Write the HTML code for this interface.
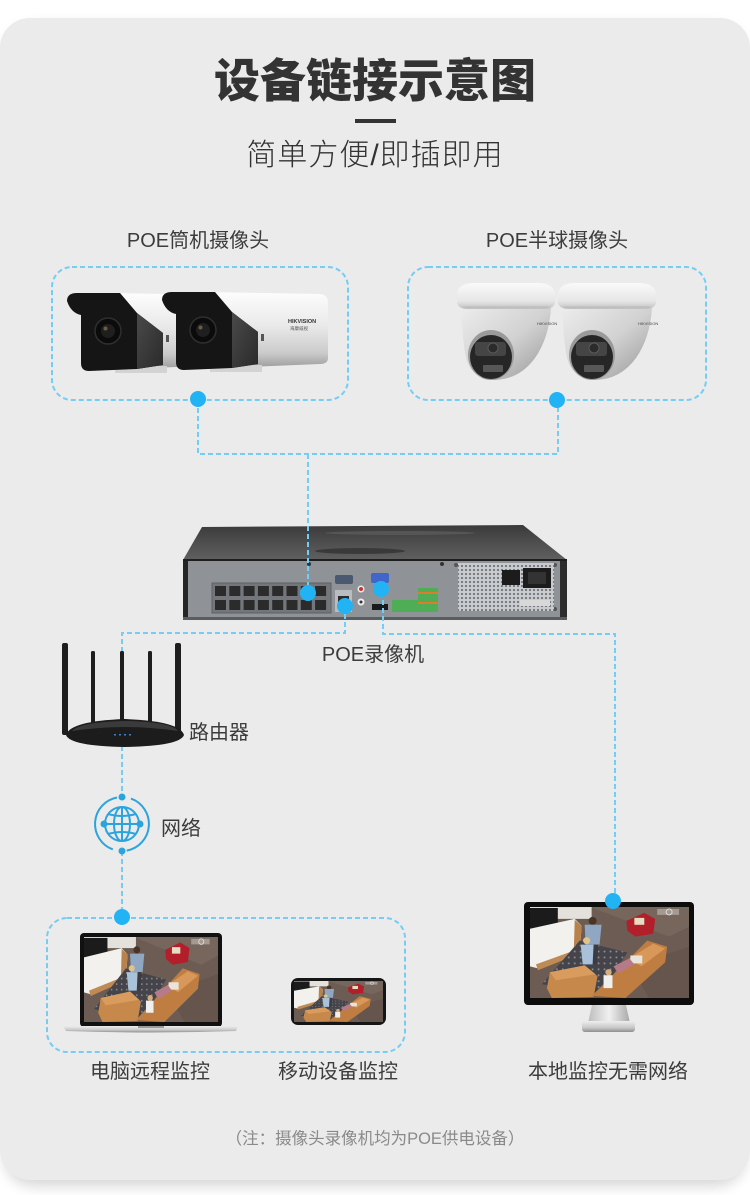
<!DOCTYPE html>
<html><head><meta charset="utf-8"><style>
html,body{margin:0;padding:0;background:#fff;}
body{width:750px;height:1195px;overflow:hidden;}
svg{display:block;}
text{font-family:"Liberation Sans","Noto Sans CJK SC",sans-serif;}
</style></head><body>
<svg width="750" height="1195" viewBox="0 0 750 1195" xmlns="http://www.w3.org/2000/svg">
<defs>
<filter id="sh" x="-10%" y="-10%" width="120%" height="120%"><feGaussianBlur stdDeviation="7"/></filter>
<linearGradient id="bodyG" x1="0" y1="0" x2="0" y2="1"><stop offset="0" stop-color="#fdfdfd"/><stop offset="0.45" stop-color="#e9e9e9"/><stop offset="0.8" stop-color="#cbcbcb"/><stop offset="1" stop-color="#9c9c9c"/></linearGradient>
<linearGradient id="sideG" x1="0" y1="0" x2="1" y2="1"><stop offset="0" stop-color="#4a4a4a"/><stop offset="1" stop-color="#2a2a2a"/></linearGradient>
<linearGradient id="capG" x1="0" y1="0" x2="0" y2="1"><stop offset="0" stop-color="#fafafa"/><stop offset="0.7" stop-color="#e6e6e6"/><stop offset="1" stop-color="#c0c0c0"/></linearGradient>
<linearGradient id="domeG" x1="0" y1="0" x2="1" y2="1"><stop offset="0" stop-color="#ececec"/><stop offset="0.5" stop-color="#d2d2d2"/><stop offset="1" stop-color="#969696"/></linearGradient>
<linearGradient id="nvrTop" x1="0" y1="0" x2="0" y2="1"><stop offset="0" stop-color="#3a3a3a"/><stop offset="0.5" stop-color="#4e4e4e"/><stop offset="1" stop-color="#5f5f5f"/></linearGradient>
<linearGradient id="silver" x1="0" y1="0" x2="0" y2="1"><stop offset="0" stop-color="#eeeeee"/><stop offset="0.6" stop-color="#c9c9c9"/><stop offset="1" stop-color="#8e8e8e"/></linearGradient>
<linearGradient id="neck" x1="0" y1="0" x2="1" y2="0"><stop offset="0" stop-color="#bdbdbd"/><stop offset="0.5" stop-color="#f0f0f0"/><stop offset="1" stop-color="#a8a8a8"/></linearGradient>
<pattern id="mesh" width="4" height="4" patternUnits="userSpaceOnUse"><rect width="4" height="4" fill="#c9ccce"/><circle cx="2" cy="2" r="1.15" fill="#73777b"/></pattern>
<pattern id="rug" width="6" height="6" patternUnits="userSpaceOnUse"><rect width="6" height="6" fill="#45444a"/><circle cx="3" cy="3" r="1" fill="#8d8c92"/></pattern>

<symbol id="scene" viewBox="0 0 160 92" preserveAspectRatio="none">
<rect width="160" height="92" fill="#6c5c53"/>
<polygon points="60,0 160,0 160,20 140,30" fill="#76665c"/>
<polygon points="100,60 160,40 160,92 120,92" fill="#65554c"/>
<rect x="0" y="0" width="62" height="12" fill="#e4e1dc"/>
<rect x="0" y="1" width="28" height="21" fill="#1b1b1b"/>
<polygon points="0,22 45,12 52,19 50,45 8,62 0,60" fill="#f3f1ed"/>
<polygon points="45,13 52,19 50,45 44,47" fill="#b8824c"/>
<polygon points="6,58 50,42 50,47 8,64" fill="#c08a55"/>
<polygon points="12,78 50,34 98,46 70,90" fill="url(#rug)"/>
<polygon points="20,66 55,59 68,70 64,91 22,92 17,82" fill="#c7894b"/>
<polygon points="20,66 55,59 66,68 26,74" fill="#d99c5e"/>
<polygon points="62,90 118,34 138,40 136,56 96,92" fill="#c07d41"/>
<polygon points="100,52 124,37 136,42 112,60" fill="#d8985a"/>
<rect x="101" y="49" width="12" height="8" fill="#e8e4dc"/>
<circle cx="63" cy="14" r="4" fill="#4a3428"/>
<polygon points="55,18 72,18 70,38 56,38" fill="#8fa7c2"/>
<polygon points="57,38 69,38 67,58 59,58" fill="#3d3a40"/>
<circle cx="57" cy="34" r="3.6" fill="#dfc38b"/>
<polygon points="51,38 64,38 63,58 53,58" fill="#a9c2da"/>
<polygon points="84,60 100,52 105,58 89,67" fill="#b67a88"/>
<circle cx="79" cy="66" r="3.2" fill="#d6ad7e"/>
<rect x="74" y="69" width="9" height="13" fill="#efefef"/>
<polygon points="97,14 115,6 126,12 124,27 106,30 98,24" fill="#b21f2b"/>
<rect x="105" y="11" width="10" height="7" fill="#e6dcc1"/>
<rect x="128" y="2" width="22" height="6" fill="#a49a92"/>
<circle cx="140" cy="5" r="3" fill="none" stroke="#ddd" stroke-width="1"/>
</symbol>

<g id="bullet">
<path d="M44,0 L158,2 Q166,3 166,10 L166,66 Q166,72 158,72 L60,76 Z" fill="url(#bodyG)"/>
<rect x="48" y="73" width="52" height="7" fill="#d3d3d3"/>
<path d="M0,8 Q0,0 10,0 L53,0 L70,20 L96,40 L96,72 L70,76 L22,78 Q14,78 14,70 L14,22 Q4,20 0,8 Z" fill="#151515"/>
<path d="M70,20 L96,40 L96,72 L70,76 Z" fill="url(#sideG)"/>
<circle cx="41" cy="38" r="13" fill="#0b0b0b" stroke="#2f2f2f" stroke-width="1.5"/>
<circle cx="41" cy="38" r="7" fill="#1f1f1f"/>
<circle cx="38.5" cy="35.5" r="2" fill="#6d5c42"/>
<rect x="99" y="42" width="3" height="7" fill="#555"/>
</g>

<g id="dome">
<path d="M4,25 L94,25 Q92,55 78,75 Q62,97 36,97 Q12,95 8,70 Q5,50 4,25 Z" fill="url(#domeG)"/>
<path d="M0,10 Q2,0 18,0 L80,0 Q96,0 98,10 L98,20 Q96,26 88,26 L10,26 Q2,26 0,20 Z" fill="url(#capG)"/>
<line x1="6" y1="24" x2="92" y2="24" stroke="#b8b8b8" stroke-width="1"/>
<ellipse cx="34" cy="72" rx="23" ry="25" fill="#9a9a9a"/>
<ellipse cx="34" cy="74" rx="21" ry="22" fill="#262626"/>
<rect x="18" y="59" width="31" height="14" rx="3" fill="#454545"/>
<circle cx="36" cy="65" r="5" fill="#2b2b2b" stroke="#5a5a5a" stroke-width="1"/>
<rect x="26" y="82" width="20" height="7" rx="1" fill="#575757"/>
<text x="80" y="42" font-size="4" fill="#444">HIKVISION</text>
</g>
</defs>

<!-- card -->
<rect x="4" y="26" width="742" height="1160" rx="30" fill="#000" opacity="0.16" filter="url(#sh)"/>
<rect x="0" y="18" width="750" height="1162" rx="30" fill="#ebebeb"/>

<!-- titles -->
<text x="375" y="97" font-size="46" font-weight="900" fill="#333" text-anchor="middle" style="font-family:'Noto Sans CJK SC',sans-serif">设备链接示意图</text>
<rect x="355" y="119" width="41" height="4" fill="#333"/>
<text x="375" y="165" font-size="30" font-weight="300" fill="#333" text-anchor="middle" letter-spacing="1">简单方便/即插即用</text>

<text x="198" y="247" font-size="20" fill="#3c3c3c" text-anchor="middle">POE筒机摄像头</text>
<text x="557" y="247" font-size="20" fill="#3c3c3c" text-anchor="middle">POE半球摄像头</text>

<!-- camera boxes -->
<g fill="none" stroke="#74cdf4" stroke-width="2" stroke-dasharray="5 3">
<rect x="52" y="267" width="296" height="133" rx="20"/>
<rect x="408" y="267" width="298" height="133" rx="20"/>
<rect x="47" y="918" width="358" height="134" rx="20"/>
</g>

<!-- bullet cameras -->
<use href="#bullet" x="67" y="293"/>
<use href="#bullet" x="162" y="292"/>
<text x="288" y="323" font-size="5.5" fill="#333" font-weight="bold">HIKVISION</text>
<text x="290" y="330" font-size="4.5" fill="#555">海康威视</text>

<!-- dome cameras -->
<use href="#dome" x="457" y="283"/>
<use href="#dome" x="558" y="283"/>

<!-- NVR -->
<polygon points="202,527 523,525 567,560 183,560" fill="url(#nvrTop)"/>
<ellipse cx="400" cy="533" rx="75" ry="2" fill="#5e5e5e" opacity="0.7"/>
<ellipse cx="360" cy="551" rx="45" ry="3" fill="#2e2e2e" opacity="0.7"/>
<rect x="183" y="559" width="384" height="2" fill="#1e1e1e"/>
<rect x="183" y="561" width="384" height="59" fill="#8f9397"/>
<rect x="183" y="561" width="5" height="59" fill="#252525"/>
<rect x="560" y="561" width="7" height="59" fill="#2c2c2c"/>
<rect x="183" y="617" width="384" height="3" fill="#5a5d60"/>
<circle cx="309" cy="564" r="2" fill="#333"/>
<circle cx="442" cy="564" r="2" fill="#333"/>
<circle cx="456" cy="565" r="2" fill="#555"/>
<circle cx="555" cy="565" r="2" fill="#555"/>
<circle cx="555" cy="609" r="2" fill="#555"/>
<rect x="212" y="583" width="119" height="30" fill="#73777b" stroke="#5c6064" stroke-width="1"/>
<g fill="#2b2b2b">
<rect x="215" y="586" width="11" height="10"/><rect x="229.3" y="586" width="11" height="10"/><rect x="243.6" y="586" width="11" height="10"/><rect x="257.9" y="586" width="11" height="10"/><rect x="272.2" y="586" width="11" height="10"/><rect x="286.5" y="586" width="11" height="10"/><rect x="300.8" y="586" width="11" height="10"/><rect x="315.1" y="586" width="11" height="10"/>
<rect x="215" y="600" width="11" height="10"/><rect x="229.3" y="600" width="11" height="10"/><rect x="243.6" y="600" width="11" height="10"/><rect x="257.9" y="600" width="11" height="10"/><rect x="272.2" y="600" width="11" height="10"/><rect x="286.5" y="600" width="11" height="10"/><rect x="300.8" y="600" width="11" height="10"/><rect x="315.1" y="600" width="11" height="10"/>
</g>
<rect x="335" y="575" width="18" height="9" rx="2" fill="#4a5870"/>
<rect x="335" y="590" width="17" height="22" fill="#b9bdc1"/>
<rect x="338" y="596" width="11" height="9" fill="#2b2b2b"/>
<circle cx="361" cy="589" r="3.5" fill="#eee"/><circle cx="361" cy="589" r="2" fill="#c33"/>
<circle cx="361" cy="602" r="3.5" fill="#eee"/><circle cx="361" cy="602" r="1.5" fill="#333"/>
<rect x="371" y="573" width="18" height="10" rx="2" fill="#3f66c8"/>
<rect x="372" y="604" width="16" height="6" fill="#1a1a1a"/>
<rect x="392" y="600" width="26" height="12" fill="#4fae55"/>
<rect x="418" y="588" width="20" height="24" fill="#4fae55"/>
<rect x="418" y="592" width="20" height="2" fill="#e07b2a"/>
<rect x="418" y="602" width="20" height="2" fill="#e07b2a"/>
<rect x="458" y="563" width="96" height="48" fill="url(#mesh)"/>
<rect x="502" y="570" width="18" height="15" fill="#1c1c1c"/>
<rect x="523" y="568" width="28" height="20" fill="#1c1c1c"/>
<rect x="528" y="572" width="18" height="12" fill="#333"/>
<rect x="520" y="600" width="30" height="6" fill="#d8d8d8"/>

<text x="373" y="661" font-size="20" fill="#3c3c3c" text-anchor="middle">POE录像机</text>

<!-- connectors -->
<g fill="none" stroke="#74cdf4" stroke-width="2" stroke-dasharray="5 3">
<path d="M198,400 V454 H558 V400"/>
<path d="M308,454 V593"/>
<path d="M345,606 V633 H122 V720"/>
<path d="M383,600 V634 H615 V901"/>
<path d="M122,746 V797"/>
<path d="M122,851 V918"/>
</g>

<!-- router -->
<g fill="#1e1e1e">
<rect x="62" y="643" width="6" height="92" rx="2"/>
<rect x="175" y="643" width="6" height="92" rx="2"/>
<rect x="91" y="651" width="4" height="72" rx="1.5"/>
<rect x="120" y="651" width="4" height="72" rx="1.5"/>
<rect x="148" y="651" width="4" height="72" rx="1.5"/>
</g>
<path d="M66,735 Q70,721 125,719 Q180,721 184,735 Q180,746 125,747 Q70,746 66,735 Z" fill="#1c1c1c"/>
<path d="M72,731 Q80,722 125,721 Q172,722 178,731 Q150,727 125,727 Q100,727 72,731 Z" fill="#3a3a3a"/>
<g fill="#3b7fd0"><rect x="114" y="734" width="2" height="1.5"/><rect x="119" y="734" width="2" height="1.5"/><rect x="124" y="734" width="2" height="1.5"/><rect x="129" y="734" width="2" height="1.5"/></g>
<text x="189" y="739" font-size="20" fill="#3c3c3c">路由器</text>

<!-- globe -->
<g stroke="#2ba4de" fill="none" stroke-width="2">
<circle cx="122" cy="824" r="17"/>
<ellipse cx="122" cy="824" rx="8" ry="17"/>
<line x1="122" y1="807" x2="122" y2="841"/>
<line x1="105" y1="824" x2="139" y2="824"/>
<path d="M108,814 Q122,818 136,814 M108,834 Q122,830 136,834"/>
<path d="M117,797.5 A27 27 0 0 0 112.8,849.4"/>
<path d="M131,798.6 A27 27 0 0 1 126.7,850.6"/>
</g>
<g fill="#2ba4de">
<circle cx="122" cy="797" r="3.5"/><circle cx="122" cy="851" r="3.5"/><circle cx="104" cy="824" r="3.5"/><circle cx="140" cy="824" r="3.5"/>
</g>
<text x="161" y="835" font-size="20" fill="#3c3c3c">网络</text>

<!-- laptop -->
<rect x="80" y="933" width="142" height="94" rx="4" fill="#111"/>
<use href="#scene" x="84" y="937" width="134" height="85"/>
<path d="M63,1026 L238,1026 L236,1031 Q150,1034 66,1031 Z" fill="url(#silver)"/>
<rect x="138" y="1026" width="26" height="2" fill="#9a9a9a"/>

<!-- phone -->
<rect x="291" y="978" width="95" height="47" rx="7" fill="#151515"/>
<use href="#scene" x="294" y="981" width="89" height="41"/>

<!-- monitor -->
<rect x="524" y="902" width="170" height="103" rx="4" fill="#0d0d0d"/>
<use href="#scene" x="530" y="907" width="159" height="91"/>
<polygon points="592,1005 626,1005 630,1023 588,1023" fill="url(#neck)"/>
<rect x="582" y="1021" width="53" height="11" rx="3" fill="url(#silver)"/>

<!-- dots -->
<g fill="#22b3f5">
<circle cx="198" cy="399" r="8"/>
<circle cx="557" cy="400" r="8"/>
<circle cx="308" cy="593" r="8"/>
<circle cx="345" cy="606" r="8"/>
<circle cx="381" cy="589" r="8"/>
<circle cx="122" cy="917" r="8"/>
<circle cx="613" cy="901" r="8"/>
</g>

<!-- bottom labels -->
<text x="150" y="1078" font-size="20" fill="#3c3c3c" text-anchor="middle">电脑远程监控</text>
<text x="338" y="1078" font-size="20" fill="#3c3c3c" text-anchor="middle">移动设备监控</text>
<text x="608" y="1078" font-size="20" fill="#3c3c3c" text-anchor="middle">本地监控无需网络</text>

<text x="375" y="1144" font-size="16.5" fill="#8a8a8a" text-anchor="middle">（注：摄像头录像机均为POE供电设备）</text>
</svg>
</body></html>
